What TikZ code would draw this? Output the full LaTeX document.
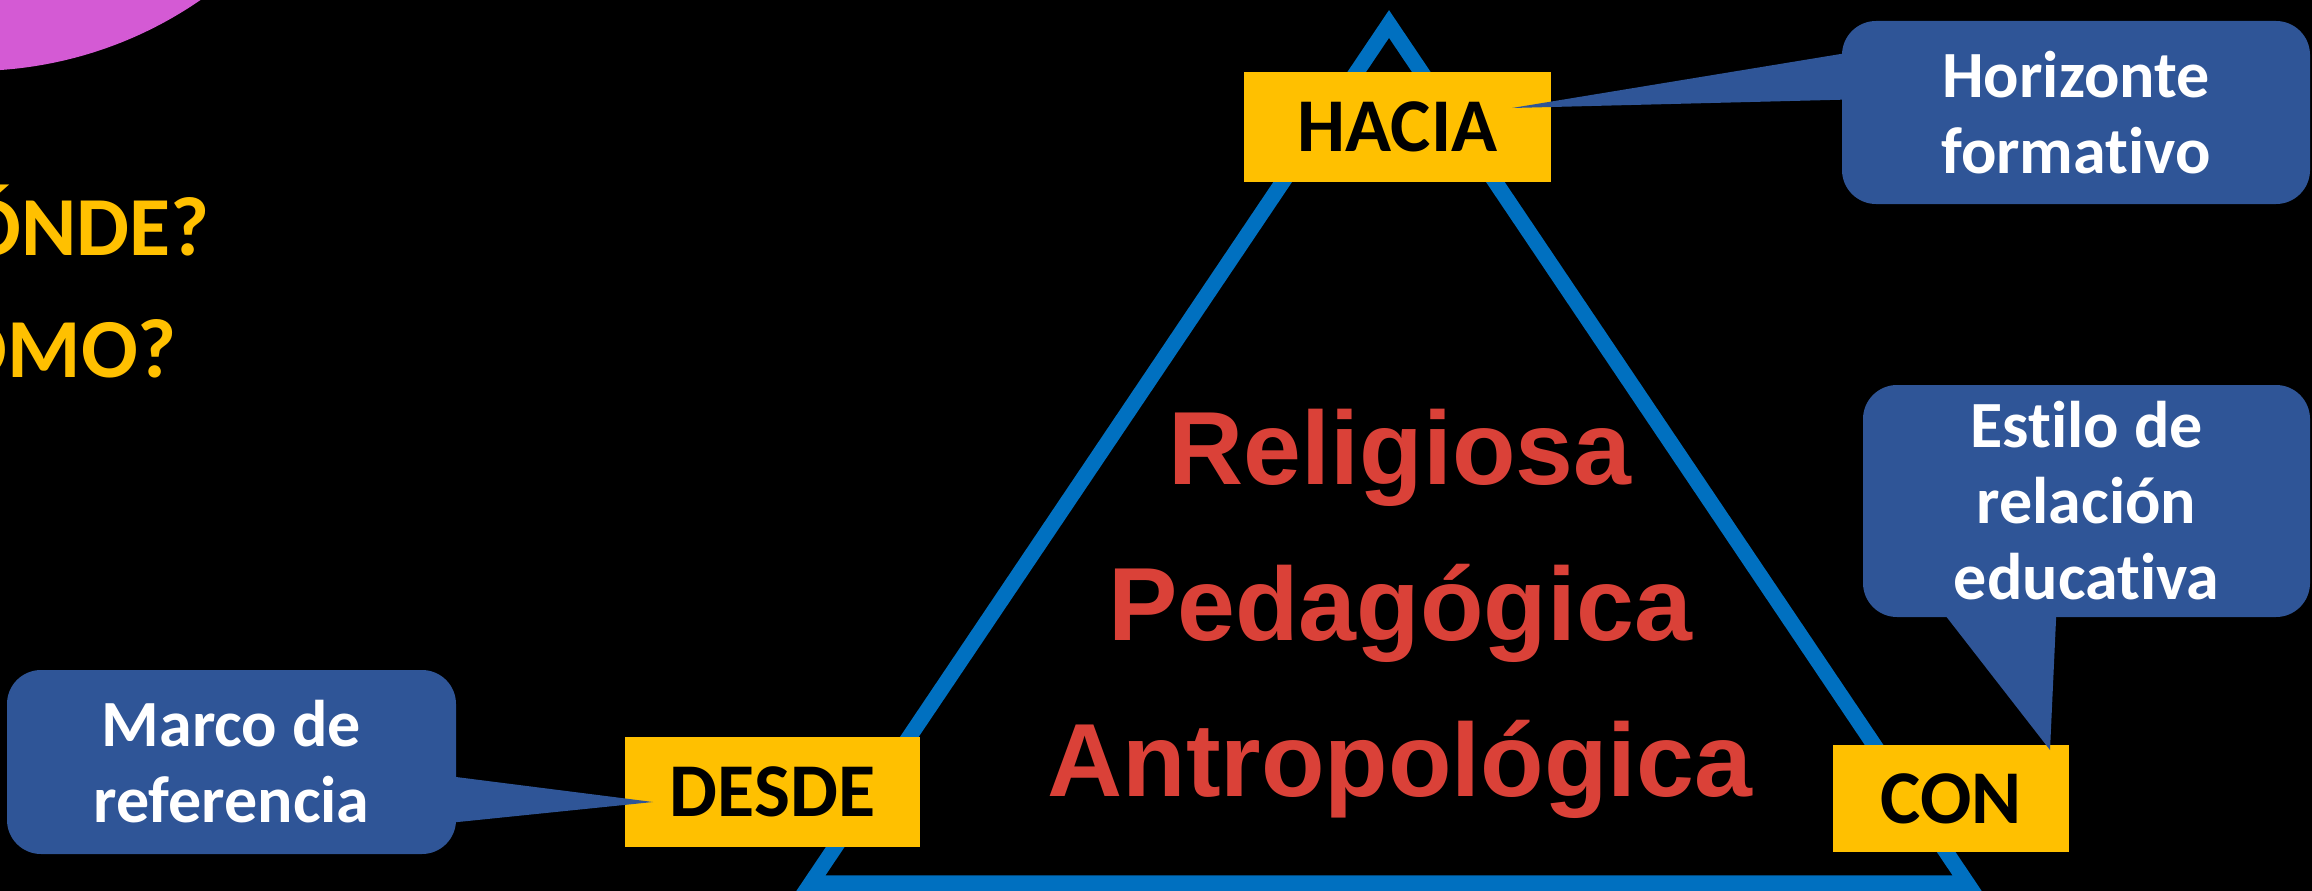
\documentclass[tikz,border=0pt]{standalone}
\usepackage{fontspec}
\setmainfont{Carlito}[Ligatures=NoCommon]
\newfontfamily\arialfont{Liberation Sans}
\usepackage{tikz}
\usetikzlibrary{positioning, shapes}
\definecolor{amarillo}{RGB}{255, 192, 0}
\definecolor{azultri}{RGB}{0, 112, 192}
\definecolor{azulgl}{RGB}{47, 85, 151}
\definecolor{rojo}{RGB}{218, 65, 56}
\definecolor{morado}{RGB}{212, 90, 212}
\tikzset{
    caja/.style={rectangle, fill=amarillo, text=black, inner sep=0pt, font=\fontsize{76}{76}\selectfont\bfseries},
    globo/.style={rectangle, rounded corners=34pt, fill=azulgl, text=white, inner sep=0pt, align=center, font=\fontsize{66}{76}\selectfont\bfseries},
    pico/.style={fill=azulgl},
    lado/.style={draw=azultri, line width=15.5pt, line join=miter},
    preg/.style={text=amarillo, inner sep=0pt, anchor=base east, font=\fontsize{84}{84}\selectfont\bfseries},
}
\begin{document}
\begin{tikzpicture}[x=1pt, y=-1pt]
        \useasboundingbox (0,0) rectangle (2312,891);
        \clip (0,0) rectangle (2312,891);
        \fill[black] (0,0) rectangle (2312,891);
        \fill[morado] (-28,-332) circle (403);

        \node[preg] (donde) at (210,255) {¿DÓNDE?};
        \node[preg] (como) at (177,377) {¿CÓMO?};

        % triangulo
        \coordinate (arriba) at (1389,24);
        \coordinate (izq) at (811,883);
        \coordinate (der) at (1967,883);
        \draw[lado] (arriba) -- (izq) -- (der) -- cycle;

        \node[text=rojo, align=center, inner sep=0pt, font=\arialfont\bfseries\fontsize{104}{156}\selectfont] (dim) at (1400,614) {Religiosa\\Pedagógica\\Antropológica};

        \node[caja, minimum width=307pt, minimum height=110pt] (hacia) at (1397.5,127) {HACIA};
        \node[caja, minimum width=295pt, minimum height=110pt] (desde) at (772.5,792) {DESDE};
        \node[caja, minimum width=236pt, minimum height=107pt] (con) at (1951,798.5) {CON};

        \node[globo, minimum width=468pt, minimum height=183pt] (hor) at (2076,112.5) {Horizonte\\formativo};
        \node[globo, minimum width=447pt, minimum height=232pt] (est) at (2086.5,501) {Estilo de\\relación\\educativa};
        \node[globo, minimum width=449pt, minimum height=184pt] (mar) at (231.5,762) {Marco de\\referencia};

        \coordinate (tipHacia) at (1512,108);
        \coordinate (tipCon) at (2050,750);
        \coordinate (tipDesde) at (653,802);
        \fill[pico] ([xshift=8pt,yshift=60pt]hor.west) -- (tipHacia) -- ([xshift=8pt,yshift=13pt]hor.west) -- cycle;
        \fill[pico] ([xshift=-146pt,yshift=8pt]est.south) -- (tipCon) -- ([xshift=-30pt,yshift=8pt]est.south) -- cycle;
        \fill[pico] ([xshift=-8pt,yshift=-14pt]mar.east) -- (tipDesde) -- ([xshift=-8pt,yshift=-61pt]mar.east) -- cycle;
    \end{tikzpicture}
\end{document}
